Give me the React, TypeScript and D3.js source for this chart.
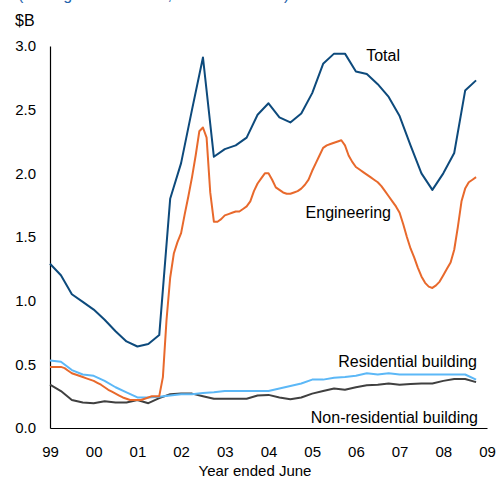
import React, { useEffect, useRef } from "react";
import * as d3 from "d3";

// quarterly, starting 1999.0 (step 0.25)
const totalVals = [
  1.29, 1.2, 1.05, 0.99, 0.93, 0.85, 0.76, 0.68, 0.64, 0.66,
  0.73, 1.8, 2.08, 2.5, 2.91, 2.13, 2.19, 2.22, 2.28, 2.46,
  2.55, 2.44, 2.4, 2.47, 2.63, 2.86, 2.94, 2.94, 2.8, 2.78,
  2.7, 2.6, 2.45, 2.22, 2.0, 1.87, 2.0, 2.16, 2.65, 2.73,
];

// monthly, starting 1999.0
const engineeringVals = [
  0.48, 0.48, 0.48, 0.48, 0.47, 0.45, 0.43, 0.42, 0.41, 0.4, 0.39, 0.38,
  0.37, 0.355, 0.34, 0.32, 0.3, 0.285, 0.27, 0.255, 0.24, 0.23, 0.22, 0.22,
  0.22, 0.22, 0.23, 0.24, 0.25, 0.25, 0.25, 0.4, 0.85, 1.18, 1.37, 1.46,
  1.53, 1.68, 1.82, 1.97, 2.14, 2.33, 2.36, 2.28, 1.85, 1.62, 1.62, 1.64,
  1.67, 1.68, 1.69, 1.7, 1.7, 1.72, 1.74, 1.78, 1.86, 1.92, 1.96, 2.0,
  2.0, 1.95, 1.89, 1.87, 1.85, 1.84, 1.84, 1.85, 1.86, 1.88, 1.91, 1.95,
  2.02, 2.08, 2.14, 2.2, 2.22, 2.23, 2.24, 2.25, 2.26, 2.22, 2.14, 2.09,
  2.05, 2.03, 2.01, 1.99, 1.97, 1.95, 1.93, 1.9, 1.86, 1.82, 1.78, 1.74,
  1.69, 1.6, 1.5, 1.41, 1.34, 1.26, 1.19, 1.14, 1.11, 1.1, 1.12, 1.15,
  1.2, 1.25, 1.3, 1.4, 1.58, 1.78, 1.88, 1.93, 1.95, 1.97,
];

// quarterly
const residentialVals = [
  0.53, 0.52, 0.455, 0.42, 0.41, 0.37, 0.32, 0.28, 0.24, 0.24,
  0.245, 0.255, 0.265, 0.265, 0.275, 0.28, 0.29, 0.29, 0.29, 0.29,
  0.29, 0.31, 0.33, 0.35, 0.38, 0.38, 0.395, 0.4, 0.41, 0.43,
  0.42, 0.43, 0.42, 0.42, 0.42, 0.42, 0.42, 0.42, 0.42, 0.38,
];

// quarterly
const nonResidentialVals = [
  0.34, 0.29, 0.22, 0.2, 0.195, 0.21, 0.2, 0.2, 0.22, 0.195,
  0.235, 0.265, 0.27, 0.27, 0.25, 0.23, 0.23, 0.23, 0.23, 0.255,
  0.26, 0.24, 0.225, 0.24, 0.27, 0.29, 0.31, 0.3, 0.32, 0.335,
  0.34, 0.35, 0.34, 0.345, 0.35, 0.35, 0.37, 0.385, 0.385, 0.36,
];

const yTicks = [0, 0.5, 1, 1.5, 2, 2.5, 3];
const xTicks = [1999, 2000, 2001, 2002, 2003, 2004, 2005, 2006, 2007, 2008, 2009];

const series = [
  { name: "Total", vals: totalVals, step: 0.25, color: "#0d4a7c" },
  { name: "Engineering", vals: engineeringVals, step: 1 / 12, color: "#e8692c" },
  { name: "Residential building", vals: residentialVals, step: 0.25, color: "#5cb8f7" },
  { name: "Non-residential building", vals: nonResidentialVals, step: 0.25, color: "#404040" },
];

const labels = [
  { text: "Total", x: 400, y: 61 },
  { text: "Engineering", x: 391, y: 218 },
  { text: "Residential building", x: 477, y: 367 },
  { text: "Non-residential building", x: 478, y: 423 },
];

const W = 504;
const H = 480;
const font = "Arial, 'Liberation Sans', sans-serif";

export default function App() {
  const svgRef = useRef<SVGSVGElement>(null);

  useEffect(() => {
    const svg = d3.select(svgRef.current);
    svg.selectAll("*").remove();

    const x = d3.scaleLinear().domain([1999, 2009]).range([50, 487]);
    const y = d3.scaleLinear().domain([0, 3]).range([428, 46]);

    // clipped subtitle at very top
    svg
      .append("text")
      .attr("x", 18)
      .attr("y", 0)
      .attr("font-family", font)
      .attr("font-size", 16)
      .attr("fill", "#1f64ad")
      .text("(Rolling annual totals, nominal dollars)");

    svg
      .append("text")
      .attr("x", 15)
      .attr("y", 26)
      .attr("font-family", font)
      .attr("font-size", 16)
      .attr("fill", "#000")
      .text("$B");

    const yAxis = d3
      .axisLeft(y)
      .tickValues(yTicks)
      .tickFormat(d3.format(".1f") as any)
      .tickSize(0)
      .tickSizeOuter(0)
      .tickPadding(14);
    const gy = svg.append("g").attr("transform", "translate(50,0)").call(yAxis);

    const xAxis = d3
      .axisBottom(x)
      .tickValues(xTicks)
      .tickFormat((d: any) => String(d % 100).padStart(2, "0"))
      .tickSize(0)
      .tickSizeOuter(0)
      .tickPadding(18);
    const gx = svg.append("g").attr("transform", "translate(0,428)").call(xAxis);

    [gx, gy].forEach((g) => {
      g.attr("font-family", font).attr("font-size", 15);
      g.select(".domain").attr("stroke", "#000").attr("stroke-width", 1.2);
      g.selectAll("text").attr("fill", "#000");
    });

    svg
      .append("text")
      .attr("x", 255)
      .attr("y", 476)
      .attr("text-anchor", "middle")
      .attr("font-family", font)
      .attr("font-size", 15)
      .attr("fill", "#000")
      .text("Year ended June");

    const line = d3
      .line<{ t: number; v: number }>()
      .x((d) => x(d.t))
      .y((d) => y(d.v));

    // draw back to front
    [...series].reverse().forEach((s) => {
      const pts = s.vals.map((v, i) => ({ t: 1999 + i * s.step, v }));
      svg
        .append("path")
        .datum(pts)
        .attr("d", line)
        .attr("fill", "none")
        .attr("stroke", s.color)
        .attr("stroke-width", 2)
        .attr("stroke-linejoin", "round");
    });

    svg
      .selectAll(".lbl")
      .data(labels)
      .join("text")
      .attr("class", "lbl")
      .attr("x", (d) => d.x)
      .attr("y", (d) => d.y)
      .attr("text-anchor", "end")
      .attr("font-family", font)
      .attr("font-size", 16)
      .attr("fill", "#000")
      .text((d) => d.text);
  }, []);

  return (
    <div style={{ position: "fixed", left: 0, top: 0, width: W, height: H, background: "#fff" }}>
      <svg ref={svgRef} width={W} height={H} />
    </div>
  );
}
